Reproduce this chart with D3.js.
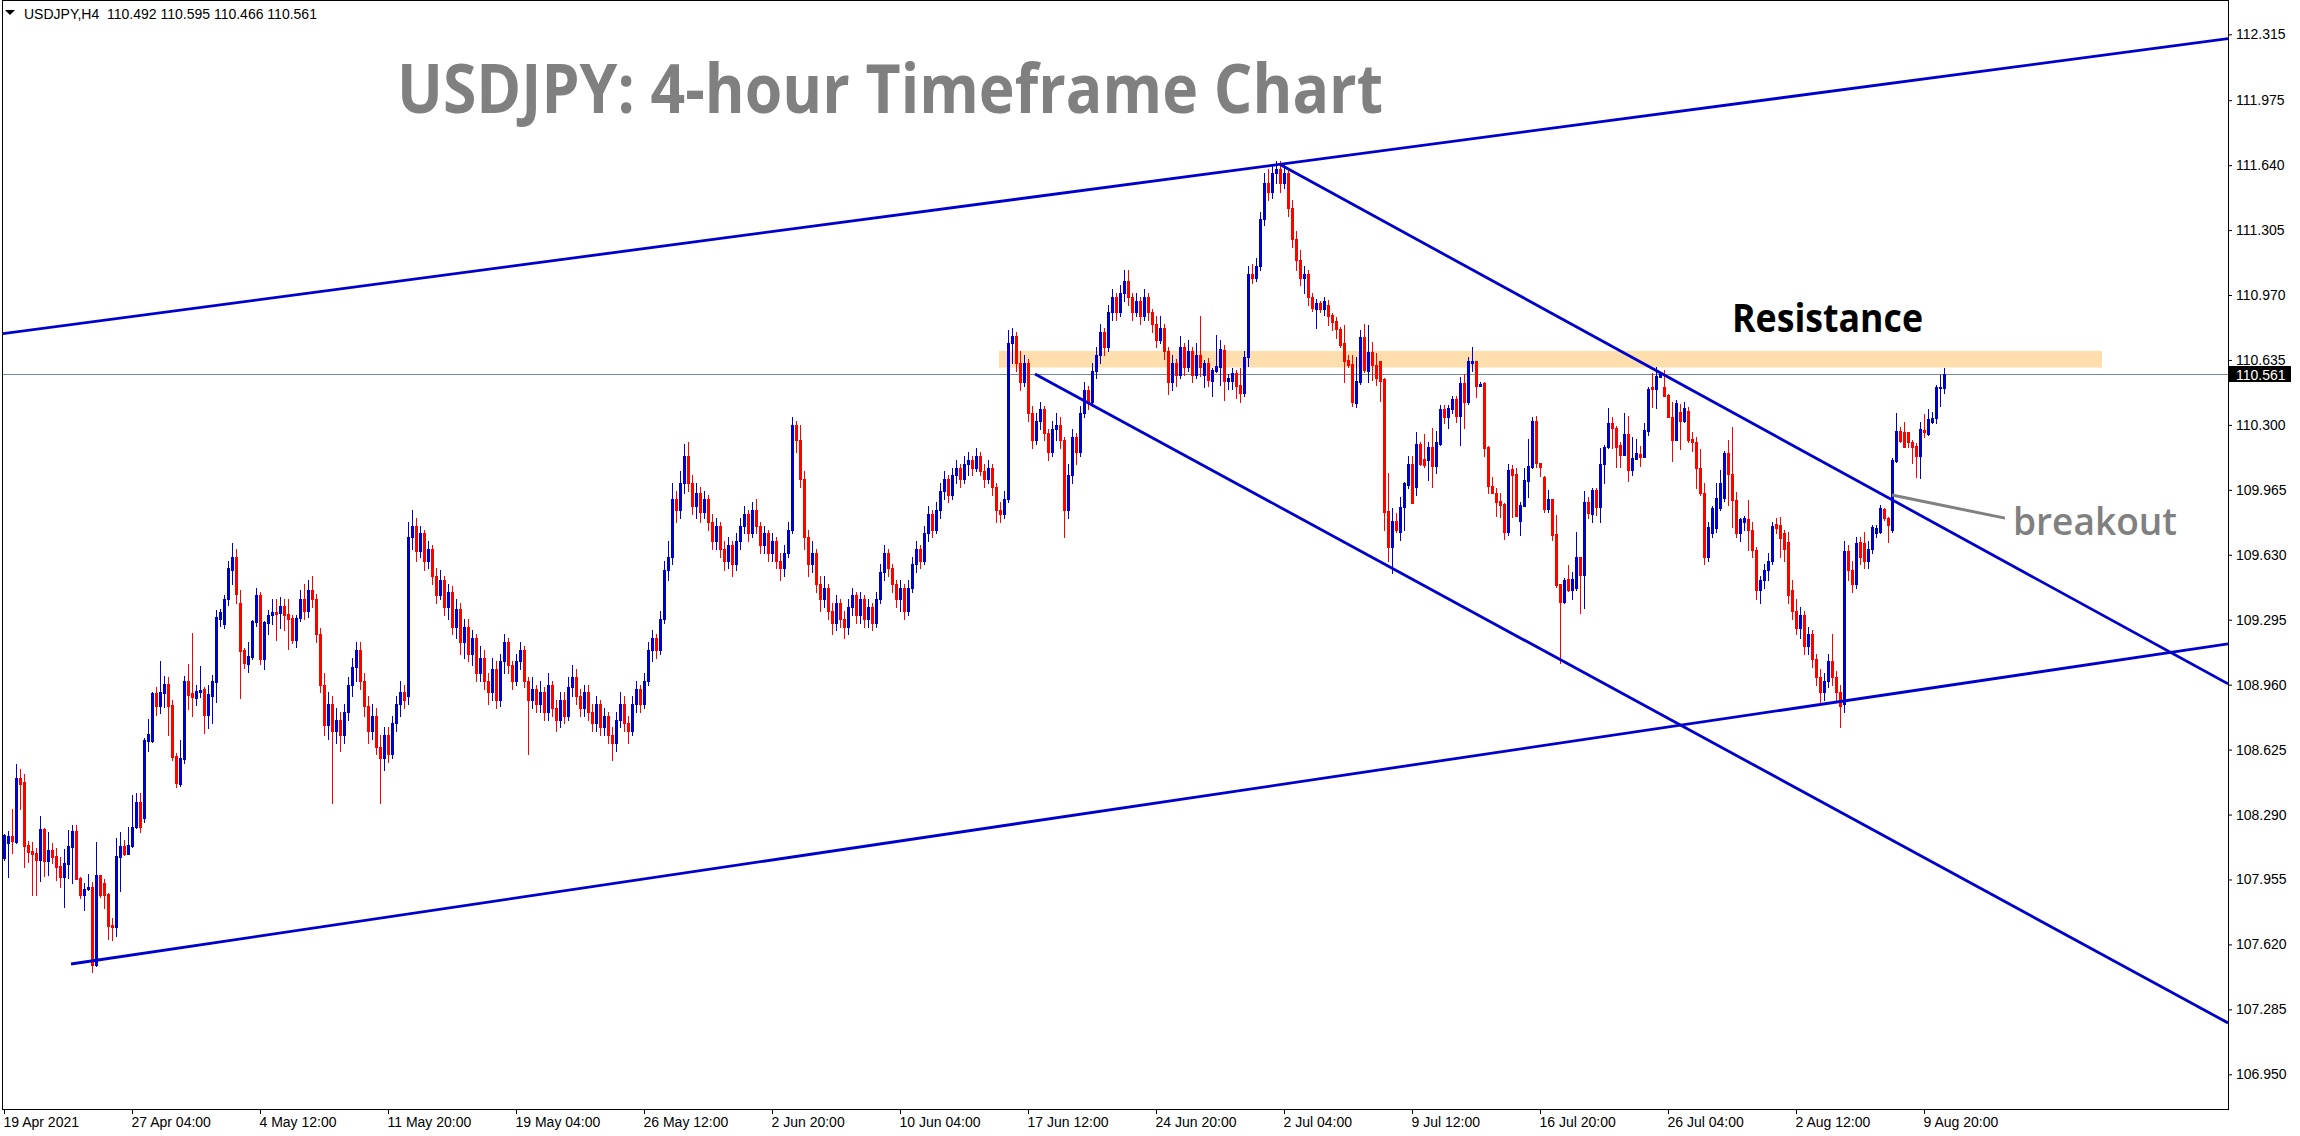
<!DOCTYPE html>
<html><head><meta charset="utf-8">
<script src="https://cdn.jsdelivr.net/npm/d3@7"></script>
<style>html,body{margin:0;padding:0;background:#fff;overflow:hidden}svg{display:block}</style>
</head><body>
<svg id="c" width="2300" height="1136"></svg>
<script>
// ---------------- DATA ----------------
const opens = [
108.064,108.142,108.180,108.150,108.479,108.458,108.133,108.102,108.092,108.056,
108.216,108.052,108.107,108.076,108.025,107.970,108.035,108.125,108.207,107.965,
107.875,107.904,107.917,107.514,107.978,107.937,107.880,107.721,107.712,108.073,
108.128,108.087,108.128,108.224,108.355,108.272,108.671,108.668,108.916,108.850,
108.919,108.964,108.855,108.592,108.448,108.579,108.979,108.917,108.891,108.922,
108.938,108.804,108.902,108.976,109.299,109.273,109.400,109.550,109.620,109.382,
109.139,109.067,109.101,109.284,109.420,109.093,109.278,109.320,109.335,109.328,
109.366,109.325,109.304,109.191,109.304,
109.40,109.34,109.45,109.40,109.22,108.96,108.75,108.86,108.72,108.78,
108.70,108.82,108.96,109.05,109.14,108.98,108.85,108.72,108.80,108.64,
108.58,108.70,108.60,108.76,108.86,108.92,108.90,109.72,109.78,109.65,
109.74,109.60,109.66,109.52,109.42,109.50,109.36,109.44,109.26,109.35,
109.18,109.26,109.12,109.20,109.02,109.10,108.98,108.92,109.04,108.88,
109.08,109.18,109.06,108.98,109.08,109.14,108.98,108.88,108.94,108.86,
108.92,108.82,108.96,108.84,108.78,108.88,108.80,108.95,109.00,108.90,
108.84,108.92,108.82,108.76,108.86,108.74,108.80,108.70,108.66,108.78,
108.86,108.76,108.72,108.86,108.94,108.86,108.98,109.14,109.20,109.14,
109.30,109.55,109.62,109.92,109.86,110.00,110.14,110.00,109.88,109.95,
109.85,109.92,109.80,109.70,109.78,109.66,109.60,109.68,109.58,109.70,
109.78,109.84,109.74,109.86,109.78,109.68,109.74,109.64,109.70,109.60,
109.56,109.64,109.76,110.30,110.22,110.02,109.72,109.58,109.64,109.48,
109.40,109.46,109.34,109.28,109.38,109.30,109.26,109.36,109.42,109.32,
109.40,109.30,109.36,109.28,109.40,109.54,109.64,109.56,109.48,109.40,
109.46,109.34,109.46,109.58,109.66,109.60,109.74,109.84,109.76,109.86,
109.96,110.02,109.94,110.04,110.08,110.02,110.10,110.12,110.08,110.14,
110.06,110.02,110.08,109.98,109.86,109.84,109.92,110.72,110.76,110.62,
110.52,110.62,110.36,110.22,110.32,110.38,110.26,110.16,110.28,110.30,
110.22,109.86,110.04,110.24,110.16,110.36,110.48,110.42,110.58,110.66,
110.78,110.70,110.88,110.96,110.88,110.98,111.04,110.96,110.88,110.94,
110.86,110.96,110.88,110.82,110.74,110.80,110.68,110.52,110.62,110.56,
110.70,110.60,110.68,110.56,110.66,
110.559,110.621,110.528,110.579,110.600,110.686,110.528,110.528,110.569,110.506,110.466,
110.648,
111.08,111.06,111.12,111.36,111.55,111.50,111.60,111.62,111.55,111.60,111.42,111.26,111.15,111.06,111.08,
110.96,110.896,110.930,110.896,110.918,110.867,110.837,110.793,110.724,110.634,
110.614,110.411,110.523,110.755,110.579,110.677,110.609,110.631,110.537,109.856,
109.672,109.806,109.749,109.874,109.990,110.098,109.981,110.201,110.122,110.119,
110.187,110.088,110.201,110.383,110.342,110.380,110.432,110.346,110.514,110.420,
110.617,110.629,110.500,110.518,110.187,109.986,109.950,109.907,109.892,109.747,
110.071,110.046,109.806,109.883,110.010,110.084,110.322,110.105,110.033,109.864,
109.917,109.737,109.479,109.388,109.503,109.448,109.457,109.617,109.525,109.904,
109.840,109.964,109.878,110.098,110.184,110.308,110.285,110.194,110.144,110.253,
110.067,110.124,110.150,110.132,110.270,110.493,110.483,110.549,110.493,110.454,
110.342,110.222,110.368,110.322,110.371,110.229,110.213,110.076,
109.947,109.62,109.741,109.766,109.870,109.921,110.153,110.047,109.913,109.741,109.80,109.813,109.758,
109.655,109.45,109.50,109.55,109.60,109.789,109.784,109.741,109.698,109.45,
109.34,109.25,109.32,109.16,109.22,109.09,109.00,108.92,108.98,109.08,
109.00,108.92,108.86,109.65,109.55,109.48,109.698,109.689,109.60,109.66,
109.741,109.749,109.864,109.818,109.758,110.116,110.268,110.262,110.262,110.213,
110.193,110.141,110.274,110.251,110.317,110.334,110.489,110.492];

const highs = [
108.190,108.205,108.319,108.551,108.525,108.499,108.154,108.149,108.116,108.283,
108.219,108.200,108.142,108.116,108.073,108.113,108.211,108.236,108.236,107.970,
107.935,107.985,107.944,108.149,107.978,107.956,107.884,107.755,108.169,108.199,
108.159,108.226,108.391,108.403,108.403,108.683,108.783,108.924,108.947,109.082,
109.005,108.998,108.881,108.606,108.675,109.005,109.067,109.227,108.959,109.057,
108.947,108.959,109.010,109.345,109.349,109.420,109.600,109.690,109.660,109.450,
109.150,109.180,109.294,109.460,109.440,109.290,109.345,109.400,109.400,109.410,
109.400,109.400,109.320,109.320,109.450,
109.48,109.50,109.52,109.43,109.25,109.02,108.92,108.90,108.84,108.82,
108.86,109.00,109.10,109.18,109.18,109.02,108.90,108.86,108.84,108.70,
108.74,108.74,108.80,108.90,108.98,108.96,109.80,109.86,109.82,109.78,
109.76,109.70,109.68,109.56,109.55,109.52,109.48,109.47,109.40,109.38,
109.30,109.30,109.24,109.22,109.16,109.14,109.02,109.10,109.08,109.12,
109.22,109.20,109.08,109.12,109.18,109.16,109.00,109.00,108.96,108.98,
108.95,109.02,108.98,108.88,108.92,108.92,109.00,109.06,109.04,108.94,
108.96,108.96,108.86,108.90,108.88,108.84,108.82,108.74,108.82,108.92,
108.90,108.80,108.90,108.98,108.96,109.02,109.18,109.24,109.22,109.34,
109.60,109.70,110.00,109.96,110.06,110.20,110.21,110.04,110.00,109.98,
109.96,109.94,109.84,109.82,109.80,109.70,109.72,109.70,109.74,109.82,
109.88,109.86,109.90,109.92,109.80,109.78,109.76,109.74,109.72,109.64,
109.68,109.80,110.34,110.32,110.30,110.06,109.76,109.70,109.66,109.52,
109.52,109.48,109.38,109.42,109.40,109.34,109.40,109.46,109.44,109.44,
109.42,109.40,109.38,109.44,109.58,109.68,109.66,109.58,109.50,109.50,
109.48,109.50,109.62,109.70,109.68,109.78,109.88,109.86,109.90,110.00,
110.06,110.04,110.08,110.12,110.10,110.14,110.16,110.14,110.18,110.16,
110.10,110.12,110.10,110.00,109.90,109.96,110.79,110.80,110.78,110.68,
110.66,110.64,110.40,110.36,110.42,110.40,110.28,110.32,110.36,110.34,
110.24,110.10,110.28,110.26,110.40,110.52,110.50,110.62,110.70,110.82,
110.80,110.92,111.00,110.98,111.02,111.10,111.10,110.98,110.98,110.96,
111.00,110.98,110.90,110.86,110.86,110.82,110.70,110.66,110.64,110.76,
110.72,110.74,110.70,110.72,110.86,
110.634,110.646,110.595,110.763,110.738,110.712,110.562,110.595,110.583,110.591,110.679,
111.12,
111.13,111.16,111.40,111.60,111.62,111.64,111.66,111.66,111.64,111.62,111.46,111.30,111.20,111.12,111.10,
110.98,110.95,110.94,110.96,110.944,110.879,110.858,110.806,110.815,110.660,
110.660,110.652,110.789,110.820,110.815,110.729,110.669,110.631,110.540,110.050,
109.869,109.843,109.929,110.007,110.139,110.139,110.265,110.213,110.253,110.213,
110.282,110.270,110.403,110.403,110.403,110.449,110.449,110.549,110.562,110.648,
110.703,110.629,110.521,110.523,110.191,110.033,109.972,109.947,109.895,110.096,
110.093,110.076,109.900,110.076,110.225,110.342,110.346,110.105,110.036,109.964,
109.917,109.835,109.479,109.508,109.577,109.540,109.749,109.620,109.959,109.929,
109.972,109.972,110.182,110.196,110.385,110.342,110.294,110.213,110.359,110.346,
110.236,110.225,110.193,110.308,110.493,110.569,110.597,110.566,110.583,110.459,
110.420,110.428,110.408,110.420,110.394,110.265,110.239,110.174,
110.00,109.80,109.88,109.998,110.067,110.165,110.222,110.291,109.956,109.82,109.83,109.913,109.80,
109.67,109.52,109.58,109.64,109.80,109.82,109.827,109.76,109.749,109.50,
109.40,109.36,109.34,109.26,109.24,109.12,109.04,109.02,109.12,109.22,
109.03,108.96,109.70,109.68,109.60,109.72,109.723,109.749,109.70,109.784,
109.784,109.887,109.870,109.827,110.128,110.360,110.291,110.317,110.265,110.222,
110.205,110.317,110.354,110.380,110.368,110.506,110.557,110.595];

const lows = [
108.056,107.970,108.094,108.145,108.319,108.021,108.047,107.877,107.877,107.949,
107.973,107.978,108.042,107.953,107.915,107.815,107.961,107.939,107.959,107.862,
107.798,107.901,107.480,107.511,107.863,107.808,107.648,107.643,107.664,107.898,
108.082,108.087,108.125,108.219,108.200,108.253,108.620,108.663,108.804,108.812,
108.847,108.701,108.572,108.434,108.439,108.556,108.835,108.799,108.855,108.898,
108.711,108.737,108.764,108.873,109.263,109.250,109.370,109.480,109.380,108.893,
109.045,109.024,109.093,109.263,109.067,109.041,109.222,109.273,109.191,109.253,
109.242,109.144,109.177,109.155,109.290,
109.30,109.31,109.36,109.18,108.92,108.70,108.68,108.35,108.66,108.62,
108.66,108.78,108.90,108.98,108.94,108.80,108.66,108.68,108.60,108.35,
108.52,108.56,108.58,108.72,108.80,108.84,108.86,109.66,109.60,109.62,
109.55,109.56,109.48,109.38,109.40,109.32,109.30,109.22,109.20,109.12,
109.10,109.08,109.06,108.98,108.98,108.94,108.86,108.88,108.84,108.85,
109.02,109.02,108.94,108.96,109.04,108.95,108.60,108.84,108.82,108.82,
108.78,108.78,108.80,108.72,108.74,108.76,108.78,108.90,108.86,108.80,
108.80,108.78,108.72,108.72,108.70,108.70,108.66,108.57,108.62,108.74,
108.72,108.66,108.70,108.82,108.82,108.84,108.96,109.08,109.10,109.12,
109.28,109.50,109.58,109.80,109.82,109.95,109.96,109.84,109.82,109.80,
109.82,109.76,109.66,109.66,109.62,109.55,109.56,109.52,109.55,109.66,
109.74,109.70,109.72,109.74,109.64,109.64,109.60,109.60,109.56,109.50,
109.52,109.62,109.74,110.16,109.98,109.66,109.52,109.54,109.44,109.34,
109.36,109.30,109.22,109.24,109.26,109.20,109.22,109.32,109.28,109.28,
109.26,109.26,109.24,109.26,109.38,109.50,109.52,109.44,109.36,109.34,
109.30,109.32,109.44,109.54,109.56,109.58,109.70,109.72,109.74,109.82,
109.92,109.90,109.92,110.00,109.98,110.00,110.04,110.04,110.06,110.04,
109.98,110.00,109.94,109.80,109.80,109.82,109.90,110.62,110.58,110.48,
110.50,110.32,110.18,110.20,110.28,110.22,110.12,110.14,110.22,110.18,
109.72,109.82,110.00,110.10,110.14,110.34,110.38,110.40,110.54,110.62,
110.66,110.68,110.84,110.84,110.86,110.94,110.92,110.84,110.86,110.82,
110.84,110.84,110.78,110.70,110.72,110.64,110.46,110.48,110.50,110.54,
110.56,110.58,110.52,110.54,110.55,
110.497,110.500,110.449,110.574,110.506,110.428,110.487,110.487,110.440,110.420,110.449,
110.605,
111.03,111.04,111.10,111.33,111.46,111.47,111.55,111.50,111.52,111.38,111.22,111.10,111.02,110.98,110.92,
110.89,110.798,110.88,110.867,110.815,110.789,110.746,110.703,110.523,110.600,
110.397,110.394,110.511,110.574,110.523,110.531,110.506,110.425,109.757,109.599,
109.534,109.749,109.706,109.757,109.972,109.899,109.938,110.093,110.081,110.015,
109.978,110.053,110.196,110.311,110.285,110.363,110.316,110.196,110.285,110.408,
110.579,110.445,110.500,110.139,109.950,109.947,109.830,109.826,109.713,109.732,
109.826,109.830,109.732,109.883,109.929,110.076,110.084,110.036,109.852,109.852,
109.706,109.465,109.070,109.383,109.445,109.40,109.448,109.328,109.353,109.818,
109.800,109.835,109.800,109.998,110.179,110.182,110.084,110.084,110.144,110.012,
110.041,110.122,110.089,110.132,110.248,110.390,110.385,110.547,110.451,110.339,
110.115,110.222,110.174,110.316,110.213,110.167,109.972,109.938,
109.58,109.60,109.72,109.75,109.86,109.91,109.887,109.775,109.723,109.70,109.76,109.655,109.62,
109.40,109.38,109.46,109.50,109.58,109.74,109.62,109.60,109.38,109.30,
109.22,109.20,109.12,109.12,109.05,108.96,108.86,108.88,108.95,108.96,
108.88,108.74,108.82,109.50,109.44,109.46,109.58,109.56,109.56,109.64,
109.723,109.741,109.809,109.698,109.749,110.110,110.213,110.188,110.188,110.105,
110.033,110.024,110.239,110.248,110.308,110.308,110.397,110.466];

const closes = [
108.185,108.180,108.156,108.479,108.448,108.128,108.099,108.087,108.056,108.216,
108.052,108.107,108.070,108.021,107.970,108.040,108.128,108.207,107.959,107.875,
107.904,107.917,107.514,107.978,107.875,107.875,107.717,107.712,108.076,108.128,
108.087,108.133,108.226,108.355,108.228,108.675,108.706,108.919,108.850,108.922,
108.964,108.850,108.589,108.455,108.582,108.979,108.907,108.897,108.928,108.933,
108.804,108.912,108.979,109.309,109.335,109.400,109.560,109.620,109.430,109.134,
109.072,109.108,109.289,109.420,109.093,109.284,109.320,109.335,109.325,109.366,
109.320,109.299,109.191,109.304,109.400,
109.34,109.45,109.40,109.22,108.96,108.75,108.86,108.72,108.78,108.70,
108.82,108.96,109.05,109.14,108.98,108.85,108.72,108.80,108.64,108.58,
108.70,108.60,108.76,108.86,108.92,108.88,109.72,109.78,109.65,109.74,
109.60,109.66,109.52,109.42,109.50,109.36,109.44,109.26,109.35,109.18,
109.26,109.12,109.20,109.02,109.10,108.98,108.92,109.04,108.88,109.08,
109.18,109.06,108.98,109.08,109.14,108.98,108.88,108.94,108.86,108.92,
108.82,108.96,108.84,108.78,108.88,108.80,108.95,109.00,108.90,108.84,
108.92,108.82,108.76,108.86,108.74,108.80,108.70,108.66,108.78,108.86,
108.76,108.72,108.86,108.94,108.86,108.98,109.14,109.20,109.14,109.30,
109.55,109.62,109.92,109.86,110.00,110.14,110.00,109.88,109.95,109.85,
109.92,109.80,109.70,109.78,109.66,109.60,109.68,109.58,109.70,109.78,
109.84,109.74,109.86,109.78,109.68,109.74,109.64,109.70,109.60,109.56,
109.64,109.76,110.30,110.22,110.02,109.72,109.58,109.64,109.48,109.40,
109.46,109.34,109.28,109.38,109.30,109.26,109.36,109.42,109.32,109.40,
109.30,109.36,109.28,109.40,109.54,109.64,109.56,109.48,109.40,109.46,
109.34,109.46,109.58,109.66,109.60,109.74,109.84,109.76,109.86,109.96,
110.02,109.94,110.04,110.08,110.02,110.10,110.12,110.08,110.14,110.06,
110.02,110.08,109.98,109.86,109.84,109.92,110.72,110.76,110.62,110.52,
110.62,110.36,110.22,110.32,110.38,110.26,110.16,110.28,110.30,110.22,
109.86,110.04,110.24,110.16,110.36,110.48,110.42,110.58,110.66,110.78,
110.70,110.88,110.96,110.88,110.98,111.04,110.96,110.88,110.94,110.86,
110.96,110.88,110.82,110.74,110.80,110.68,110.52,110.62,110.56,110.70,
110.60,110.68,110.56,110.66,110.60,
110.621,110.531,110.583,110.604,110.690,110.528,110.542,110.569,110.500,110.466,110.648,
111.08,
111.06,111.12,111.36,111.55,111.50,111.60,111.62,111.55,111.60,111.42,111.26,111.15,111.06,111.08,110.96,
110.901,110.930,110.896,110.94,110.861,110.832,110.793,110.712,110.629,110.609,
110.420,110.528,110.755,110.583,110.677,110.609,110.540,110.528,109.852,109.672,
109.806,109.757,109.878,109.998,110.098,109.899,110.201,110.098,110.093,110.187,
110.088,110.213,110.383,110.342,110.385,110.432,110.346,110.514,110.420,110.629,
110.629,110.500,110.511,110.182,109.986,109.950,109.904,109.887,109.747,110.067,
110.041,109.830,109.887,110.015,110.088,110.322,110.101,110.081,109.864,109.917,
109.732,109.474,109.388,109.500,109.448,109.503,109.620,109.525,109.904,109.843,
109.964,109.878,110.098,110.187,110.308,110.282,110.187,110.144,110.253,110.067,
110.127,110.153,110.136,110.273,110.487,110.483,110.552,110.562,110.451,110.339,
110.222,110.414,110.322,110.385,110.222,110.213,110.076,109.947,
109.62,109.775,109.870,109.921,109.998,110.157,110.047,109.913,109.741,109.813,109.818,109.758,109.655,
109.45,109.50,109.55,109.60,109.779,109.766,109.715,109.66,109.42,109.34,
109.25,109.32,109.16,109.22,109.09,109.00,108.92,108.98,109.08,109.00,
108.92,108.85,109.65,109.55,109.48,109.693,109.62,109.60,109.66,109.775,
109.766,109.870,109.818,109.784,110.119,110.268,110.219,110.188,110.213,110.188,
110.141,110.279,110.265,110.329,110.334,110.497,110.497,110.561];

const yTickValues = [112.315,111.975,111.640,111.305,110.970,110.635,110.300,109.965,109.630,109.295,108.960,108.625,108.290,107.955,107.620,107.285,106.950];
const xTickLabels = ["19 Apr 2021","27 Apr 04:00","4 May 12:00","11 May 20:00","19 May 04:00","26 May 12:00","2 Jun 20:00","10 Jun 04:00","17 Jun 12:00","24 Jun 20:00","2 Jul 04:00","9 Jul 12:00","16 Jul 20:00","26 Jul 04:00","2 Aug 12:00","9 Aug 20:00"];
const xTickBars = [0,32,64,96,128,160,192,224,256,288,320,352,384,416,448,480];
// trend lines: [bar index, price] pairs
const trendA = [[-1,110.769],[556,112.293]];   // upper rising
const trendB = [[16.75,107.519],[556,109.170]]; // lower rising
const trendC = [[319.25,111.641],[556,108.964]]; // upper falling
const trendD = [[257.75,110.563],[556,107.215]]; // lower falling
const resistanceZone = {from:248.75, to:524.5, low:110.596, high:110.682};
const breakoutPointer = [[472,109.938],[500.25,109.819]];
const lastPrice = 110.561;
const headerText = "USDJPY,H4  110.492 110.595 110.466 110.561";

// ---------------- DRAW ----------------
const BLUE = "#0000CD", RED = "#FF0000";
const svg = d3.select("#c");
const L = 2, T = 0, R = 2228, B = 1109;
const x = d3.scaleLinear().domain([0,556]).range([4,2228]);
const y = d3.scaleLinear().domain([106.950,112.315]).range([1074.3,34.3]);

svg.append("rect").attr("width",2300).attr("height",1136).attr("fill","#fff");
svg.append("defs").append("clipPath").attr("id","clip")
  .append("rect").attr("x",L+1).attr("y",T+1).attr("width",R-L-1).attr("height",B-T-1);

const plot = svg.append("g").attr("clip-path","url(#clip)");

// resistance zone
plot.append("rect")
  .attr("x",x(resistanceZone.from)).attr("width",x(resistanceZone.to)-x(resistanceZone.from))
  .attr("y",y(resistanceZone.high)).attr("height",y(resistanceZone.low)-y(resistanceZone.high))
  .attr("fill","#FFDEAD");

// last price line
plot.append("line").attr("x1",L).attr("x2",R)
  .attr("y1",Math.round(y(lastPrice))+0.5).attr("y2",Math.round(y(lastPrice))+0.5)
  .attr("stroke","#778899").attr("stroke-width",1).attr("shape-rendering","crispEdges");

// candles
const candles = closes.map((c,i)=>({i,o:opens[i],h:highs[i],l:lows[i],c}));
const cg = plot.append("g").attr("shape-rendering","crispEdges");
cg.selectAll("rect.wick").data(candles).join("rect").attr("class","wick")
  .attr("x",d=>Math.round(x(d.i))).attr("width",1)
  .attr("y",d=>Math.round(y(d.h)))
  .attr("height",d=>Math.max(1,Math.round(y(d.l))-Math.round(y(d.h))+1))
  .attr("fill",d=>d.c>=d.o?BLUE:RED);
cg.selectAll("rect.body").data(candles).join("rect").attr("class","body")
  .attr("x",d=>Math.round(x(d.i))-1).attr("width",3)
  .attr("y",d=>Math.round(y(Math.max(d.o,d.c))))
  .attr("height",d=>Math.max(1,Math.round(y(Math.min(d.o,d.c)))-Math.round(y(Math.max(d.o,d.c)))+1))
  .attr("fill",d=>d.c>=d.o?BLUE:RED);

// trend lines
const line = d3.line().x(d=>x(d[0])).y(d=>y(d[1]));
[trendA,trendB,trendC,trendD].forEach(t=>{
  plot.append("path").attr("d",line(t)).attr("fill","none")
    .attr("stroke",BLUE).attr("stroke-width",2.8);
});
// breakout pointer
plot.append("path").attr("d",line(breakoutPointer)).attr("fill","none")
  .attr("stroke","#808080").attr("stroke-width",3);

// frame
svg.append("rect").attr("x",L+0.5).attr("y",T+0.5).attr("width",R-L).attr("height",B-T)
  .attr("fill","none").attr("stroke","#000").attr("stroke-width",1).attr("shape-rendering","crispEdges");

// axes
const axFont = "'Liberation Sans', Arial, sans-serif";
const yAxis = d3.axisRight(y).tickValues(yTickValues).tickFormat(d3.format(".3f")).tickSize(4).tickPadding(4);
const gy = svg.append("g").attr("transform",`translate(${R},0)`).call(yAxis);
gy.select(".domain").remove();
gy.selectAll("line").attr("stroke","#000");
gy.selectAll("text").attr("font-family",axFont).attr("font-size",14).attr("fill","#000");

const xAxis = d3.axisBottom(x).tickValues(xTickBars).tickFormat((d,k)=>xTickLabels[k]).tickSize(5).tickPadding(2);
const gx = svg.append("g").attr("transform",`translate(0,${B})`).call(xAxis);
gx.select(".domain").remove();
gx.selectAll("line").attr("stroke","#000");
gx.selectAll("text").attr("font-family",axFont).attr("font-size",14).attr("fill","#000")
  .attr("text-anchor","start").attr("x",-1).attr("y",17.7).attr("dy",null);
gx.attr("font-family",axFont); gy.attr("font-family",axFont);

// last price label
const ly = y(lastPrice);
svg.append("rect").attr("x",R+1).attr("y",Math.round(ly)-8).attr("width",62).attr("height",16).attr("fill","#000");
svg.append("text").attr("x",R+8).attr("y",Math.round(ly)+5.5).attr("font-family",axFont).attr("font-size",14)
  .attr("fill","#fff").text(d3.format(".3f")(lastPrice));

// header
svg.append("path").attr("d","M5,10L15,10L10,15Z").attr("fill","#000");
svg.append("text").attr("x",24).attr("y",19).attr("font-family",axFont).attr("font-size",14)
  .attr("fill","#000").style("white-space","pre").text(headerText);

// title & annotations
svg.append("text").attr("x",397).attr("y",113).attr("font-family","'Open Sans', sans-serif")
  .attr("font-weight",700).attr("font-size",68).attr("fill","#808080")
  .attr("textLength",986).attr("lengthAdjust","spacingAndGlyphs")
  .text("USDJPY: 4-hour Timeframe Chart");
svg.append("text").attr("x",1732).attr("y",331.5).attr("font-family","'Open Sans', sans-serif")
  .attr("font-weight",700).attr("font-size",40).attr("fill","#000")
  .attr("textLength",191).attr("lengthAdjust","spacingAndGlyphs").text("Resistance");
svg.append("text").attr("x",2013).attr("y",535).attr("font-family","'Open Sans', sans-serif")
  .attr("font-weight",600).attr("font-size",38).attr("fill","#808080")
  .attr("textLength",164).attr("lengthAdjust","spacingAndGlyphs").text("breakout");
</script>
</body></html>
